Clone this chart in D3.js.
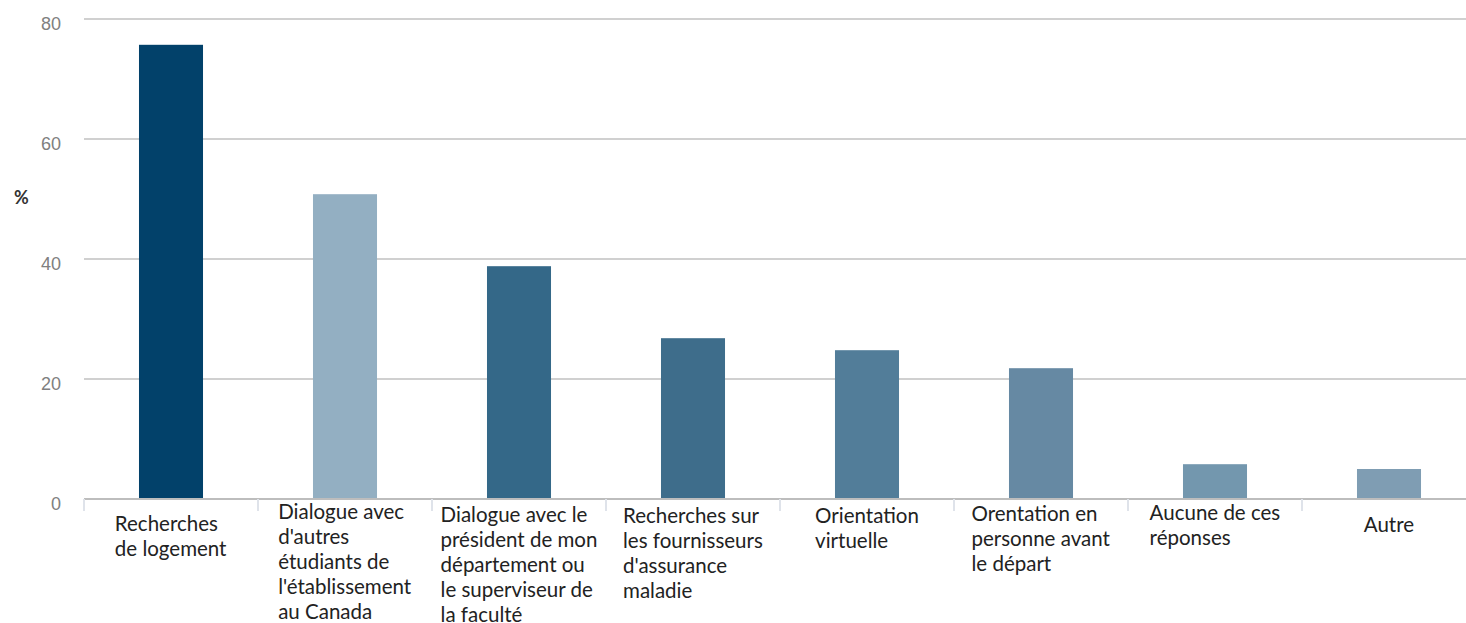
<!DOCTYPE html>
<html>
<head>
<meta charset="utf-8">
<script src="https://cdn.jsdelivr.net/npm/d3@7"></script>
<style>
  body { margin: 0; background: #fff; }
  svg { display: block; font-family: Lato, "Open Sans", sans-serif; }
  .grid line { stroke: #d0d0d0; stroke-width: 2px; }
  .y.axis text { fill: #808080; font-size: 18px; }
  .cat text { fill: #222; font-size: 20.5px; }
</style>
</head>
<body>
<svg id="chart"></svg>
<script>
// categories (line breaks as in the original)
var categories = [
  ["Recherches", "de logement"],
  ["Dialogue avec", "d'autres", "étudiants de", "l'établissement", "au Canada"],
  ["Dialogue avec le", "président de mon", "département ou", "le superviseur de", "la faculté"],
  ["Recherches sur", "les fournisseurs", "d'assurance", "maladie"],
  ["Orientation", "virtuelle"],
  ["Orentation en", "personne avant", "le départ"],
  ["Aucune de ces", "réponses"],
  ["Autre"]
];
var values = [75.7, 50.8, 38.8, 26.8, 24.8, 21.8, 5.8, 5];
var barColors = ["#02416a", "#93afc2", "#346888", "#3e6d8b", "#527d99", "#6689a3", "#7397ae", "#7f9db3"];
var yTicks = [0, 20, 40, 60, 80];

var W = 1466, H = 623;
var margin = {top: 19, left: 84, bottom: 124};

var svg = d3.select("#chart").attr("width", W).attr("height", H);

var x = d3.scaleBand()
    .domain(d3.range(categories.length))
    .range([margin.left, margin.left + 174 * categories.length])
    .paddingInner(0.632).paddingOuter(0.316);

var y = d3.scaleLinear()
    .domain([0, 80])
    .range([H - margin.bottom, margin.top]);

// gridlines
svg.append("g").attr("class", "grid")
  .selectAll("line")
  .data(yTicks.filter(function(d) { return d > 0; }))
  .enter().append("line")
    .attr("x1", margin.left).attr("x2", W)
    .attr("y1", function(d) { return y(d); })
    .attr("y2", function(d) { return y(d); });

// y axis labels
var yAxis = d3.axisLeft(y).tickValues(yTicks).tickSize(0).tickPadding(23);
svg.append("g")
    .attr("class", "y axis")
    .attr("transform", "translate(" + margin.left + ",0)")
    .call(yAxis)
    .call(function(g) {
      g.select(".domain").remove();
      g.selectAll("text").attr("dy", "0.6em");
    });

svg.append("text")
    .attr("x", 14).attr("y", 204)
    .style("font-size", "18px")
    .style("font-weight", "bold")
    .style("fill", "#333")
    .text("%");

// bars
svg.append("g").selectAll("rect")
  .data(values)
  .enter().append("rect")
    .attr("x", function(d, i) { return x(i); })
    .attr("width", x.bandwidth())
    .attr("y", function(d) { return y(d); })
    .attr("height", function(d) { return y(0) - y(d); })
    .style("fill", function(d, i) { return barColors[i]; });

// baseline + category ticks
var base = y(0);
svg.append("line")
    .attr("x1", margin.left).attr("x2", W)
    .attr("y1", base).attr("y2", base)
    .style("stroke", "#bdbdbd").style("stroke-width", 2);

var step = x.step();
svg.append("g").selectAll("line")
  .data(d3.range(categories.length + 1))
  .enter().append("line")
    .attr("x1", function(i) { return margin.left + i * step; })
    .attr("x2", function(i) { return margin.left + i * step; })
    .attr("y1", base).attr("y2", base + 12)
    .style("stroke", "#dfe3ea").style("stroke-width", 2);

// category labels: block centred in band, lines left aligned
var firstLine = [524, 512, 515, 516, 516, 514, 513, 525];
var cat = svg.append("g").attr("class", "cat");
categories.forEach(function(lines, i) {
  var t = cat.append("text").attr("y", firstLine[i] + 7);
  lines.forEach(function(l, j) {
    t.append("tspan").attr("x", 0).attr("dy", j === 0 ? 0 : 25).text(l);
  });
  var w = t.node().getBBox().width;
  var cx = x(i) + x.bandwidth() / 2;
  t.selectAll("tspan").attr("x", cx - w / 2);
});
</script>
</body>
</html>
